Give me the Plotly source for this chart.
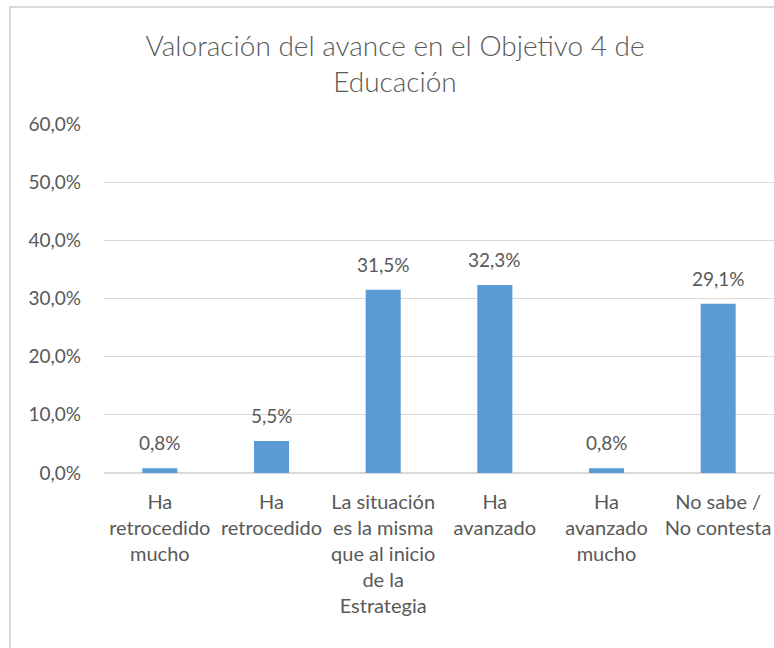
import plotly.graph_objects as go

categories = [
    "Ha<br>retrocedido<br>mucho",
    "Ha<br>retrocedido",
    "La situación<br>es la misma<br>que al inicio<br>de la<br>Estrategia",
    "Ha<br>avanzado",
    "Ha<br>avanzado<br>mucho",
    "No sabe /<br>No contesta",
]
values = [0.8, 5.5, 31.5, 32.3, 0.8, 29.1]
y_ticks = [0, 10, 20, 30, 40, 50, 60]
y_tick_labels = [f"{t:.1f}".replace(".", ",") + "%" for t in y_ticks]

TEXT = "#595959"
FONT = "Lato"

fig = go.Figure()
fig.add_trace(go.Bar(
    x=categories, y=values,
    marker=dict(color="#5B9BD5", line=dict(width=0)),
    hoverinfo="skip",
))

for c, v in zip(categories, values):
    fig.add_annotation(
        x=c, y=v, xref="x", yref="y",
        text=f"{v:.1f}".replace(".", ",") + "%",
        showarrow=False, yanchor="bottom", yshift=12,
        font=dict(family=FONT, size=19, color=TEXT),
    )

W, H = 774, 648
L, R, T, B = 104, 0, 124, 175
pw, ph = W - L - R, H - T - B

# chart-area border
fig.add_shape(
    type="rect", xref="paper", yref="paper",
    x0=(10 - L) / pw, x1=(W + 20 - L) / pw,
    y0=-(H + 20 - (H - B)) / ph, y1=((H - B) - 7) / ph,
    line=dict(color="#D9D9D9", width=2), fillcolor="rgba(0,0,0,0)",
    layer="below",
)

fig.update_layout(
    width=W, height=H,
    margin=dict(l=L, r=R, t=T, b=B, autoexpand=False),
    paper_bgcolor="white", plot_bgcolor="white",
    showlegend=False,
    bargap=0.686,
    title=dict(
        text="Valoración del avance en el Objetivo 4 de<br>Educación",
        x=395 / W, xanchor="center", xref="container",
        y=1 - 56 / H, yanchor="top", yref="container",
        font=dict(family=FONT, size=28, color=TEXT, weight=300),
    ),
    font=dict(family=FONT, color=TEXT),
    xaxis=dict(
        showgrid=False, showline=False, zeroline=False,
        ticks="", tickfont=dict(family=FONT, size=20, color=TEXT),
        ticklabelstandoff=15,
        fixedrange=True,
    ),
    yaxis=dict(
        range=[0, 60], tickvals=y_ticks, ticktext=y_tick_labels,
        showgrid=True, gridcolor="#D9D9D9", gridwidth=1,
        zeroline=True, zerolinecolor="#D9D9D9", zerolinewidth=1.5,
        showline=False, ticks="",
        tickfont=dict(family=FONT, size=19, color=TEXT),
        ticklabelstandoff=22,
        fixedrange=True,
    ),
)

fig.write_html(
    "out.html",
    config={"displayModeBar": False},
    post_script="document.body.style.margin='0';document.body.style.overflow='hidden';",
)
